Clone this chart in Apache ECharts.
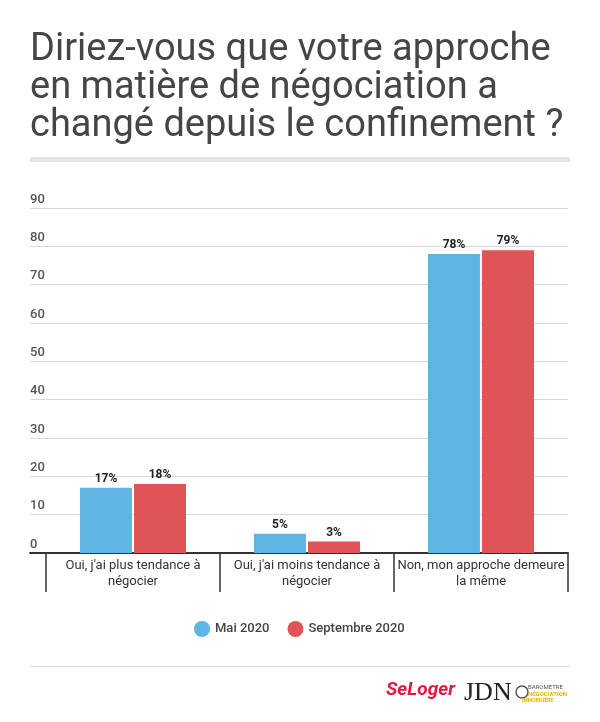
<!DOCTYPE html>
<html><head><meta charset="utf-8">
<script src="https://cdn.jsdelivr.net/npm/echarts@6/dist/echarts.min.js"></script>
<style>html,body{margin:0;padding:0;background:#fff}#c{width:600px;height:722px}</style>
</head><body><div id="c"></div>
<script>
const titleText = "Diriez-vous que votre approche\nen matière de négociation a\nchangé depuis le confinement ?";
const categories = ["Oui, j'ai plus tendance à\nnégocier", "Oui, j'ai moins tendance à\nnégocier", "Non, mon approche demeure\nla même"];
const seriesNames = ["Mai 2020", "Septembre 2020"];
const mai2020 = [17, 5, 78];
const sept2020 = [18, 3, 79];
const yMin = 0, yMax = 90, yStep = 10;
const colors = ["#5DB5E4", "#DF5457"];

const chart = echarts.init(document.getElementById('c'), null, {renderer: 'canvas'});
const font = 'Roboto, "Noto Sans", sans-serif';
const gridTop = 208, gridBottom = 169, gridRight = 32;
chart.setOption({
  animation: false,
  textStyle: {fontFamily: font},
  title: {
    text: titleText, left: 25, top: 26,
    textStyle: {fontFamily: font, fontSize: 38, fontWeight: 'normal', color: '#454545', lineHeight: 38}
  },
  legend: {
    data: seriesNames, top: 616, left: 189, icon: 'circle', itemWidth: 16, itemHeight: 16, itemGap: 18,
    textStyle: {fontFamily: font, fontSize: 13, color: '#444', fontWeight: 500}
  },
  grid: [
    {left: 30, right: gridRight, top: gridTop, bottom: gridBottom},
    {left: 46, right: gridRight, top: gridTop, bottom: gridBottom}
  ],
  xAxis: [
    {gridIndex: 0, type: 'category', data: [''], axisLabel: {show: false}, axisTick: {show: false},
     axisLine: {show: true, lineStyle: {color: '#333', width: 2}}},
    {gridIndex: 1, type: 'category', data: categories,
     axisLine: {show: false},
     axisTick: {show: true, length: 39, lineStyle: {color: '#333', width: 1.5}},
     axisLabel: {fontFamily: font, fontSize: 13, color: '#333', lineHeight: 16, margin: 5, interval: 0}}
  ],
  yAxis: [
    {gridIndex: 0, type: 'value', min: yMin, max: yMax, interval: yStep,
     axisLine: {show: false}, axisTick: {show: false},
     splitLine: {lineStyle: {color: '#d9d9d9', width: 1}},
     axisLabel: {inside: true, align: 'left', verticalAlign: 'bottom', margin: 0,
       padding: [0, 0, 2, 0], fontFamily: font, fontSize: 13, color: '#555', fontWeight: 500}},
    {gridIndex: 1, type: 'value', min: yMin, max: yMax, interval: yStep, show: false, splitLine: {show: false}}
  ],
  series: [
    {name: seriesNames[0], type: 'bar', xAxisIndex: 1, yAxisIndex: 1, data: mai2020, barWidth: 52, barGap: '4%',
     itemStyle: {color: colors[0]},
     label: {show: true, position: 'top', distance: 3, formatter: '{c}%', fontFamily: font, fontSize: 12, fontWeight: 'bold', color: '#222'}},
    {name: seriesNames[1], type: 'bar', xAxisIndex: 1, yAxisIndex: 1, data: sept2020, barWidth: 52, barGap: '4%',
     itemStyle: {color: colors[1]},
     label: {show: true, position: 'top', distance: 3, formatter: '{c}%', fontFamily: font, fontSize: 12, fontWeight: 'bold', color: '#222'}}
  ],
  graphic: [
    {type: 'rect', shape: {x: 30, y: 157, width: 540, height: 5}, style: {fill: '#e3e3e3'}},
    {type: 'rect', shape: {x: 30, y: 666, width: 540, height: 1}, style: {fill: '#dcdcdc'}},
    {type: 'text', left: 386, top: 681, style: {text: 'SeLoger', font: 'italic bold 19px ' + font, fill: '#e3173e'}},
    {type: 'text', left: 464, top: 680, style: {text: 'JDN', font: '26px "Liberation Serif", serif', fill: '#222'}},
    {type: 'circle', shape: {cx: 522, cy: 692, r: 6}, style: {fill: 'none', stroke: '#555', lineWidth: 1.5}},
    {type: 'text', left: 528, top: 684, style: {text: 'BAROMÈTRE', font: '6px ' + font, fill: '#555'}},
    {type: 'text', left: 528, top: 691, style: {text: 'NÉGOCIATION', font: 'bold 6px ' + font, fill: '#e8b400'}},
    {type: 'text', left: 522, top: 698, style: {text: 'IMMOBILIÈRE', font: 'bold 5px ' + font, fill: '#e8b400'}}
  ]
});
</script></body></html>
